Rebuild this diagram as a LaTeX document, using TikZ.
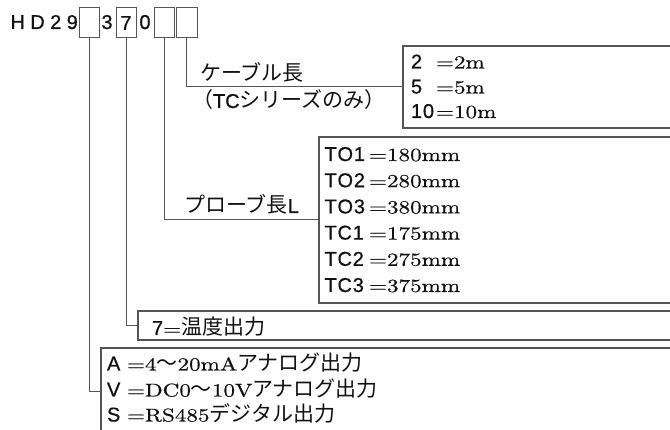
\documentclass[tikz,border=0pt]{standalone}
\usepackage{fontspec}
\newfontfamily\jp{Noto Sans CJK JP}
\newfontfamily\sa{Liberation Sans}[FakeBold=0.6]
\newfontfamily\srf{lmroman10-regular.otf}[FakeStretch=1.25, FakeBold=0.5]
\definecolor{lc}{HTML}{555555}
\definecolor{tc}{HTML}{111111}
\newdimen\lsamt
\makeatletter
\def\lsp#1{\lsp@#1\@nil}
\def\lsp@#1{\ifx#1\@nil\else#1\kern\lsamt\expandafter\lsp@\fi}
\makeatother
\newcommand\sr[1]{{\fontsize{18.5}{20}\selectfont\srf #1}}
\newcommand\lbl[2]{\makebox[#1][l]{\sa\lsamt=0.8pt\lsp{#2}}}
\newcommand\Jtxt[1]{{\fontsize{21}{23}\selectfont\jp #1}}
\newcommand\Stxt[1]{{\fontsize{20}{22}\selectfont\sa #1}}
\begin{document}
\begin{tikzpicture}[x=1pt,y=-1pt,
  every node/.style={inner sep=0pt, outer sep=0pt, text=tc},
  cbox/.style={draw=lc, line width=1pt, minimum width=20pt, minimum height=30pt, anchor=center},
  bigbox/.style={draw=lc, line width=1.4pt, anchor=north west},
  conn/.style={draw=lc, line width=1pt},
  row/.style={anchor=base west, font=\fontsize{20}{22}\selectfont},
  jpt/.style={anchor=base west, font=\fontsize{21}{23}\selectfont\jp},
  code/.style={font=\fontsize{20}{22}\selectfont\sa}
]
\useasboundingbox (0,0) rectangle (670,430);
\fill[white] (0,0) rectangle (670,430);
\clip (0,0) rectangle (670,430);

% model code
\node[code, anchor=base west] (hd) at (10.5,29) {\lsamt=5.4pt\lsp{HD29}};
\node[cbox, minimum width=20pt] (b1) at (89,23) {};
\node[code, anchor=base] (n3) at (107,29) {3};
\node[cbox, code, minimum width=20pt] (b2) at (126,23) {7};
\node[code, anchor=base] (n0) at (145,29) {0};
\node[cbox, minimum width=20pt] (b3) at (164,23) {};
\node[cbox, minimum width=21pt] (b4) at (186.5,23) {};

% option boxes
\node[bigbox, minimum width=280pt, minimum height=82pt] (cable) at (403,46) {};
\node[bigbox, minimum width=364pt, minimum height=166pt] (probe) at (319,137) {};
\node[bigbox, minimum width=545pt, minimum height=29pt] (temp) at (138,311) {};
\node[bigbox, minimum width=582pt, minimum height=88pt] (out) at (101,348) {};

% connectors
\draw[conn] (b4.south) |- (cable.west);
\draw[conn] (b3.south) |- (probe.west);
\draw[conn] (b2.south) |- (temp.west);
\draw[conn] (b1.south) |- (out.west);

% labels
\node[jpt] (lk) at (200,81) {ケーブル長};
\node[jpt] (lt) at (192,108) {（\Stxt{TC}シリーズのみ）};
\node[jpt] (lp) at (184,213) {プローブ長\Stxt{L}};

% cable rows
\node[row] (c1) at (411,68.5) {\lbl{25pt}{2}\sr{=2m}};
\node[row] (c2) at (411,93.5) {\lbl{25pt}{5}\sr{=5m}};
\node[row] (c3) at (411,118) {\lbl{25pt}{10}\sr{=10m}};

% probe rows
\node[row] (p1) at (324.5,161) {\lbl{44.5pt}{TO1}\sr{=180mm}};
\node[row] (p2) at (324.5,187.2) {\lbl{44.5pt}{TO2}\sr{=280mm}};
\node[row] (p3) at (324.5,213.4) {\lbl{44.5pt}{TO3}\sr{=380mm}};
\node[row] (p4) at (324.5,239.6) {\lbl{44.5pt}{TC1}\sr{=175mm}};
\node[row] (p5) at (324.5,265.8) {\lbl{44.5pt}{TC2}\sr{=275mm}};
\node[row] (p6) at (324.5,292) {\lbl{44.5pt}{TC3}\sr{=375mm}};

% temperature row
\node[row] (t1) at (152,335) {{\sa 7}\sr{=}\Jtxt{温度出力}};

% output rows
\node[row] (o1) at (107,370.5) {\lbl{20pt}{A}\sr{=4}\Jtxt{〜}\sr{20mA}\Jtxt{アナログ出力}};
\node[row] (o2) at (107,396.5) {\lbl{20pt}{V}\sr{=DC0}\Jtxt{〜}\sr{10V}\Jtxt{アナログ出力}};
\node[row] (o3) at (107,421.5) {\lbl{20pt}{S}\sr{=RS485}\Jtxt{デジタル出力}};
\end{tikzpicture}
\end{document}
